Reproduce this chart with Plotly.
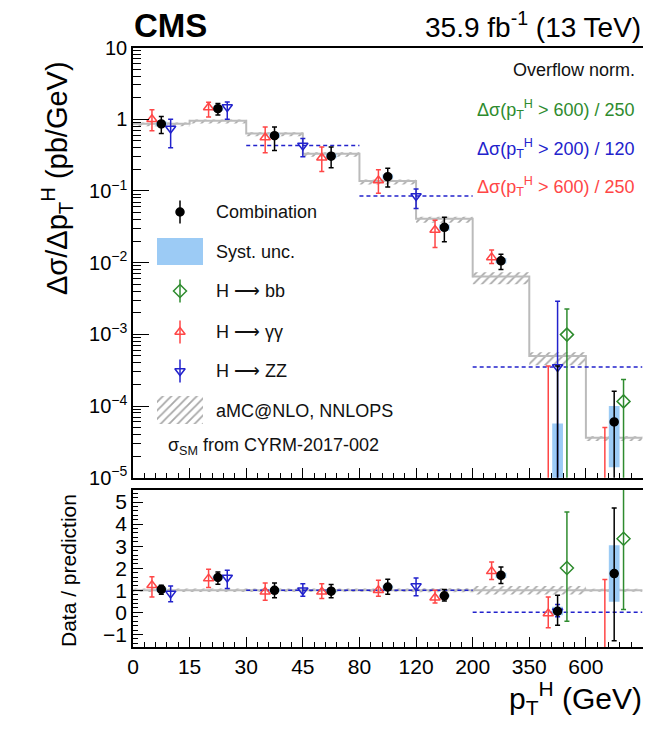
import plotly.graph_objects as go

# page body keeps its default 8px margin: the figure is sized so the page is 651x729
PAGE_W, PAGE_H = 651, 729
BODY = 8
PW, PH = PAGE_W - 2 * BODY, PAGE_H - 2 * BODY

# ---------------- data ----------------
bin_labels = ["0", "15", "30", "45", "80", "120", "200", "350", "600", "∞"]
edges = list(range(len(bin_labels)))          # display bin edges (equal width)
centers = [e + 0.5 for e in edges[:-1]]
off = 0.165                                     # horizontal shift of channels

pred = [0.865, 0.95, 0.63, 0.33, 0.137, 0.041, 0.0064, 5.0e-4, 3.6e-5]
pred_up_rel = [0.04, 0.04, 0.04, 0.05, 0.05, 0.06, 0.15, 0.12, 0.05]
pred_dn_rel = [0.08, 0.08, 0.08, 0.09, 0.10, 0.12, 0.22, 0.26, 0.10]
ratio_unc = [0.08, 0.08, 0.08, 0.08, 0.08, 0.09, 0.19, 0.19, 0.07]

comb_val = [0.86, 1.40, 0.59, 0.305, 0.158, 0.031, 0.0106, 3e-6, 6.0e-5]
comb_lo = [0.63, 1.14, 0.366, 0.21, 0.113, 0.0195, 0.0080, 1e-9, 1e-9]
comb_hi = [1.09, 1.66, 0.78, 0.41, 0.207, 0.0428, 0.0131, 3.6e-4, 1.6e-4]
comb_syst_lo = [0.80, 1.31, 0.55, 0.285, 0.148, 0.028, 0.0097, 1e-9, 1.4e-5]
comb_syst_hi = [0.93, 1.50, 0.64, 0.33, 0.170, 0.034, 0.0116, 5.7e-5, 1.0e-4]

gg_val = [1.0, 1.46, 0.557, 0.29, 0.14, 0.0285, 0.0118, 1e-7, 1e-7]
gg_lo = [0.69, 1.07, 0.34, 0.186, 0.093, 0.0163, 0.00975, 1e-9, 1e-9]
gg_hi = [1.36, 1.72, 0.78, 0.41, 0.197, 0.039, 0.015, 3.6e-4, 5.0e-5]

zz_edges = [0, 1, 2, 4, 6, 9]
zz_val = [0.74, 1.48, 0.43, 0.085, 3.5e-4]
zz_lo = [0.40, 1.0, 0.30, 0.057, 1e-9]
zz_hi = [1.0, 1.74, 0.54, 0.106, 2.9e-3]

bb_bins = [7, 8]
bb_val = [9.9e-4, 1.16e-4]
bb_lo = [1e-9, 1e-9]
bb_hi = [2.26e-3, 2.35e-4]

comb_r = [1.04, 1.58, 1.0, 0.96, 1.15, 0.75, 1.68, 0.05, 1.76]
comb_r_lo = [0.82, 1.28, 0.66, 0.66, 0.82, 0.51, 1.31, -0.58, -1.29]
comb_r_hi = [1.23, 1.83, 1.33, 1.26, 1.50, 1.04, 2.06, 0.78, 4.73]
comb_r_syst_lo = [0.97, 1.50, 0.94, 0.90, 1.08, 0.69, 1.56, -0.13, 0.48]
comb_r_syst_hi = [1.11, 1.66, 1.06, 1.02, 1.22, 0.81, 1.80, 0.25, 3.04]
gg_r = [1.23, 1.53, 0.93, 0.93, 1.0, 0.66, 1.86, -0.05, -3.0]
gg_r_lo = [0.70, 1.13, 0.55, 0.63, 0.73, 0.43, 1.49, -0.70, -6.0]
gg_r_hi = [1.61, 1.95, 1.33, 1.30, 1.46, 1.0, 2.28, 0.70, 1.49]
zz_r = [0.86, 1.58, 1.0, 1.19, 0.05]
zz_r_lo = [0.48, 1.08, 0.73, 0.75, -0.20]
zz_r_hi = [1.19, 1.91, 1.30, 1.56, 0.36]
zz_r_line = [1.0, 1.0, 1.0, 1.0, 0.0]
bb_r = [2.01, 3.34]
bb_r_lo = [-0.40, 0.13]
bb_r_hi = [4.55, 7.0]

# ---------------- style ----------------
FONT = "Liberation Sans, Arial, Helvetica, sans-serif"
RED = "#ff4646"
BLUE = "#2222cc"
GREEN = "#2e8b2e"
SYST = "#9ccbf5"
GRAY = "#bbbbbb"
HATCH = "#a8a8a8"
ARROW = "⟶"


def px_x(p):
    return (p - BODY) / PW


def px_y(p):
    return 1 - (p - BODY) / PH


fig = go.Figure()


def boxes(xc, halfw, lo, hi):
    xs, ys = [], []
    for c, l, h in zip(xc, lo, hi):
        xs += [c - halfw, c + halfw, c + halfw, c - halfw, c - halfw, None]
        ys += [l, l, h, h, l, None]
    return xs, ys


def steps(vals):
    return edges, list(vals) + [vals[-1]]


def errpts(name, x, val, lo, hi, color, symbol, size, xa, ya, fill=None):
    fig.add_trace(go.Scatter(
        x=x, y=val, mode="markers", name=name, showlegend=False,
        xaxis=xa, yaxis=ya,
        marker=dict(symbol=symbol, size=size, color=fill or color,
                    line=dict(color=color, width=1.5)),
        error_y=dict(type="data", symmetric=False,
                     array=[h - v for v, h in zip(val, hi)],
                     arrayminus=[v - l for v, l in zip(val, lo)],
                     color=color, thickness=1.5, width=2.5),
    ))


HATCH_PAT = dict(shape="/", fgcolor=HATCH, size=6, solidity=0.3)

# ---------- top panel ----------
bx, by = boxes(centers, 0.5,
               [p * (1 - d) for p, d in zip(pred, pred_dn_rel)],
               [p * (1 + u) for p, u in zip(pred, pred_up_rel)])
fig.add_trace(go.Scatter(x=bx, y=by, fill="toself", mode="none",
                         fillcolor="rgba(0,0,0,0)", fillpattern=HATCH_PAT,
                         xaxis="x", yaxis="y", showlegend=False, hoverinfo="skip"))
sx, sy = steps(pred)
fig.add_trace(go.Scatter(x=sx, y=sy, mode="lines", line=dict(color=GRAY, width=2, shape="hv"),
                         xaxis="x", yaxis="y", showlegend=False))

for i in range(len(zz_val)):
    if zz_edges[i + 1] - zz_edges[i] > 1:
        fig.add_trace(go.Scatter(x=[zz_edges[i], zz_edges[i + 1]], y=[zz_val[i], zz_val[i]],
                                 mode="lines", line=dict(color=BLUE, width=1.5, dash="4px,3px"),
                                 xaxis="x", yaxis="y", showlegend=False))

qx, qy = boxes(centers, 0.095, comb_syst_lo, comb_syst_hi)
fig.add_trace(go.Scatter(x=qx, y=qy, fill="toself", mode="none", fillcolor=SYST,
                         xaxis="x", yaxis="y", showlegend=False, hoverinfo="skip"))

zz_x = [(a + b) / 2 + (off if b - a == 1 else 0) for a, b in zip(zz_edges[:-1], zz_edges[1:])]
gg_x = [c - off for c in centers]
bb_x = [centers[b] + off for b in bb_bins]

errpts("H→γγ", gg_x, gg_val, gg_lo, gg_hi, RED, "triangle-up-open", 9, "x", "y")
errpts("H→ZZ", zz_x, zz_val, zz_lo, zz_hi, BLUE, "triangle-down-open", 9, "x", "y")
errpts("H→bb", bb_x, bb_val, bb_lo, bb_hi, GREEN, "diamond-open", 10, "x", "y")
errpts("Combination", centers, comb_val, comb_lo, comb_hi, "#000000", "circle", 8, "x", "y")

# ---------- ratio panel ----------
rx, ry = boxes(centers, 0.5, [1 - u for u in ratio_unc], [1 + u for u in ratio_unc])
fig.add_trace(go.Scatter(x=rx, y=ry, fill="toself", mode="none",
                         fillcolor="rgba(0,0,0,0)", fillpattern=HATCH_PAT,
                         xaxis="x2", yaxis="y2", showlegend=False, hoverinfo="skip"))
fig.add_trace(go.Scatter(x=[edges[0], edges[-1]], y=[1, 1], mode="lines",
                         line=dict(color=GRAY, width=2),
                         xaxis="x2", yaxis="y2", showlegend=False))
for i in range(len(zz_val)):
    if zz_edges[i + 1] - zz_edges[i] > 1:
        fig.add_trace(go.Scatter(x=[zz_edges[i], zz_edges[i + 1]], y=[zz_r_line[i], zz_r_line[i]],
                                 mode="lines", line=dict(color=BLUE, width=1.5, dash="4px,3px"),
                                 xaxis="x2", yaxis="y2", showlegend=False))
qx2, qy2 = boxes(centers, 0.095, comb_r_syst_lo, comb_r_syst_hi)
fig.add_trace(go.Scatter(x=qx2, y=qy2, fill="toself", mode="none", fillcolor=SYST,
                         xaxis="x2", yaxis="y2", showlegend=False, hoverinfo="skip"))
errpts("H→γγ", gg_x, gg_r, gg_r_lo, gg_r_hi, RED, "triangle-up-open", 9, "x2", "y2")
errpts("H→ZZ", zz_x, zz_r, zz_r_lo, zz_r_hi, BLUE, "triangle-down-open", 9, "x2", "y2")
errpts("H→bb", bb_x, bb_r, bb_r_lo, bb_r_hi, GREEN, "diamond-open", 10, "x2", "y2")
errpts("Combination", centers, comb_r, comb_r_lo, comb_r_hi, "#000000", "circle", 8, "x2", "y2")

# ---------- hand-drawn legend (overlay axes in page pixels) ----------
leg_rows = [212, 252, 291, 332, 371, 411]
leg_x = 180


def leg_marker(y, color, symbol, size):
    fig.add_trace(go.Scatter(x=[leg_x], y=[y], mode="markers", xaxis="x3", yaxis="y3",
                             showlegend=False, cliponaxis=False,
                             marker=dict(symbol=symbol, size=size, color=color,
                                         line=dict(color=color, width=1.5)),
                             error_y=dict(type="constant", value=11.5, color=color,
                                          thickness=1.5, width=0)))


leg_marker(leg_rows[0], "#000000", "circle", 8)
leg_marker(leg_rows[2], GREEN, "diamond-open", 10)
leg_marker(leg_rows[3], RED, "triangle-up-open", 9)
leg_marker(leg_rows[4], BLUE, "triangle-down-open", 9)
fig.add_trace(go.Scatter(x=[157, 203, 203, 157, 157], y=[238, 238, 265, 265, 238],
                         fill="toself", mode="none", fillcolor=SYST, xaxis="x3", yaxis="y3",
                         showlegend=False, hoverinfo="skip"))
fig.add_trace(go.Scatter(x=[157, 203, 203, 157, 157], y=[396, 396, 424, 424, 396],
                         fill="toself", mode="none", fillcolor="rgba(0,0,0,0)",
                         fillpattern=HATCH_PAT,
                         xaxis="x3", yaxis="y3", showlegend=False, hoverinfo="skip"))

ann = []
leg_texts = ["Combination", "Syst. unc.", "H " + ARROW + " bb", "H " + ARROW + " γγ",
             "H " + ARROW + " ZZ", "aMC@NLO, NNLOPS"]
for t, yy in zip(leg_texts, leg_rows):
    ann.append(dict(text=t, x=px_x(214), y=px_y(yy), xanchor="left", yanchor="middle",
                    font=dict(size=18, color="#111")))
ann.append(dict(text="σ<sub>SM</sub> from CYRM-2017-002", x=px_x(166), y=px_y(447),
                xanchor="left", yanchor="middle", font=dict(size=18, color="#111")))

ann.append(dict(text="Overflow norm.", x=px_x(637), y=px_y(70), xanchor="right", yanchor="middle",
                font=dict(size=18, color="#111")))
ann.append(dict(text="Δσ(p<sub>T</sub><sup>H</sup> > 600) / 250", x=px_x(637), y=px_y(109),
                xanchor="right", yanchor="middle", font=dict(size=18, color=GREEN)))
ann.append(dict(text="Δσ(p<sub>T</sub><sup>H</sup> > 200) / 120", x=px_x(637), y=px_y(148),
                xanchor="right", yanchor="middle", font=dict(size=18, color=BLUE)))
ann.append(dict(text="Δσ(p<sub>T</sub><sup>H</sup> > 600) / 250", x=px_x(637), y=px_y(186),
                xanchor="right", yanchor="middle", font=dict(size=18, color=RED)))

ann.append(dict(text="<b>CMS</b>", x=px_x(132), y=px_y(25), xanchor="left", yanchor="middle",
                font=dict(size=33, color="#000")))
ann.append(dict(text="35.9 fb<sup>-1</sup> (13 TeV)", x=px_x(643), y=px_y(25), xanchor="right",
                yanchor="middle", font=dict(size=28, color="#000")))

ann.append(dict(text="Δσ/Δp<sub>T</sub><sup>H</sup> (pb/GeV)", x=px_x(57), y=px_y(178),
                textangle=-90, xanchor="center", yanchor="middle",
                font=dict(size=29, color="#000")))
ann.append(dict(text="Data / prediction", x=px_x(68), y=px_y(571), textangle=-90,
                xanchor="center", yanchor="middle", font=dict(size=21, color="#000")))
ann.append(dict(text="p<sub>T</sub><sup>H</sup> (GeV)", x=px_x(643), y=px_y(720), xanchor="right",
                yanchor="bottom", borderpad=0, font=dict(size=30, color="#000")))

for a in ann:
    a.update(xref="paper", yref="paper", showarrow=False)

# ---------- axes ----------
xdom = [px_x(133), px_x(642.5)]
top_dom = [px_y(477.7), px_y(47.5)]
bot_dom = [px_y(647), px_y(489.5)]

log_major = [1e-5, 1e-4, 1e-3, 1e-2, 1e-1, 1, 10]
log_text = ["10<sup>−5</sup>", "10<sup>−4</sup>", "10<sup>−3</sup>", "10<sup>−2</sup>",
            "10<sup>−1</sup>", "1", "10"]
log_minor = [m * d for d in log_major[:-1] for m in range(2, 10)]

common_x = dict(domain=xdom, range=[edges[0], edges[-1]], tickmode="array", tickvals=edges,
                ticks="inside", ticklen=10, tickwidth=1, tickcolor="#000",
                minor=dict(ticks="inside", ticklen=5, dtick=0.2, tick0=0, tickcolor="#000",
                           showgrid=False),
                showline=True, linecolor="#000", linewidth=1.5, mirror=True,
                showgrid=False, zeroline=False, fixedrange=True, automargin=False)

fig.update_layout(
    template="none",
    width=PW, height=PH, margin=dict(l=0, r=0, t=0, b=0, pad=0, autoexpand=False),
    paper_bgcolor="white", plot_bgcolor="rgba(0,0,0,0)",
    font=dict(family=FONT, color="#000"),
    showlegend=False,
    xaxis=dict(anchor="y", showticklabels=False, **common_x),
    yaxis=dict(domain=top_dom, type="log", range=[-5, 1], anchor="x",
               tickmode="array", tickvals=log_major, ticktext=log_text,
               ticks="inside", ticklen=16, tickcolor="#000",
               minor=dict(tickmode="array", tickvals=log_minor, ticks="inside", ticklen=8,
                          tickcolor="#000", showgrid=False),
               tickfont=dict(size=20), showline=True, linecolor="#000", linewidth=1.5,
               mirror=True, showgrid=False, zeroline=False, fixedrange=True, automargin=False),
    xaxis2=dict(anchor="y2", showticklabels=True, ticktext=bin_labels,
                tickfont=dict(size=21), **common_x),
    yaxis2=dict(domain=bot_dom, range=[-1.57, 5.57], anchor="x2",
                tickmode="array", tickvals=[-1, 0, 1, 2, 3, 4, 5],
                ticktext=["−1", "0", "1", "2", "3", "4", "5"],
                ticks="inside", ticklen=10, tickcolor="#000",
                minor=dict(ticks="inside", ticklen=5, dtick=0.2, tick0=0, tickcolor="#000",
                           showgrid=False),
                tickfont=dict(size=21), showline=True, linecolor="#000", linewidth=1.5,
                mirror=True, showgrid=False, zeroline=False, fixedrange=True, automargin=False),
    xaxis3=dict(domain=[0, 1], range=[BODY, BODY + PW], anchor="y3", visible=False,
                fixedrange=True, automargin=False),
    yaxis3=dict(domain=[0, 1], range=[BODY + PH, BODY], anchor="x3", visible=False,
                fixedrange=True, automargin=False),
    annotations=ann,
)

fig.write_html("out.html", config={"displayModeBar": False})
